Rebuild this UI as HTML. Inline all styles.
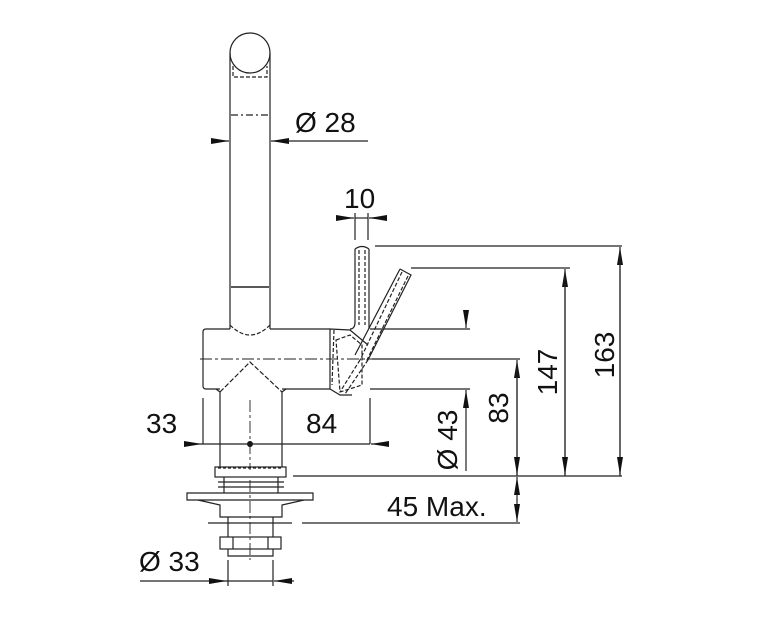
<!DOCTYPE html>
<html><head><style>body{margin:0;background:#fff}svg{display:block}</style></head><body>
<svg width="760" height="620" viewBox="0 0 760 620" xmlns="http://www.w3.org/2000/svg" font-family="Liberation Sans, Arial, sans-serif" fill="none" stroke="#222" stroke-width="1.2">
<defs><marker id="a" viewBox="0 0 18 6" refX="18" refY="3" markerWidth="18" markerHeight="6" markerUnits="userSpaceOnUse" orient="auto"><path d="M0,0L18,3L0,6z" fill="#111" stroke="none"/></marker></defs>
<!-- spout -->
<circle cx="250" cy="53" r="20"/>
<path d="M230,53V329M270,53V329"/>
<path d="M233,66V77H267V66" stroke-dasharray="4,2"/>
<path d="M231,115H269" stroke-dasharray="7,3,2,3"/>
<path d="M231,287H269" stroke-width="1.6"/>
<!-- body -->
<path d="M206,329H230M270,329H330M206,389H220M282,389H330M206,329Q203,329 203,332V386Q203,389 206,389"/>
<path d="M230,325Q250,345 270,325" stroke-dasharray="4,2"/>
<path d="M220,392L250,362L282,392" stroke-dasharray="5,2"/>
<path d="M220,392L216,389M282,392L286,389"/>
<path d="M330,329V389M330,329L350,330L368,345M330,389L340,395L352,395"/>
<path d="M336,340L350,335L362,345L362,385L340,392Z" stroke-dasharray="4,2"/>
<path d="M334,330L332,385" stroke-dasharray="4,2"/>
<!-- rod -->
<path d="M355,249V322Q355,329 350,329M369,249V329M355,249Q362,244 369,249"/>
<path d="M359,250V325M365,250V325" stroke-dasharray="4,2"/>
<!-- angled lever -->
<path d="M400,269L411,275L368,360M400,269L355,355" />
<path d="M402,272L360,360M408,276L366,362" stroke-dasharray="4,2"/>
<path d="M368,360L345,394M360,360L340,392" stroke-dasharray="4,2"/>
<!-- centerline -->
<path d="M200,359H520" stroke-dasharray="12,3,3,3" stroke-width="0.9"/>
<path d="M250,400V470M250,480V560" stroke-dasharray="12,3,3,3" stroke-width="0.9"/>
<!-- column -->
<path d="M220,392V467M282,392V467"/>
<rect x="215" y="467" width="71" height="10"/>
<path d="M218,468H283" stroke-dasharray="3,2"/>
<path d="M224,477V487M278,477V487M218,482H284M218,487H284M224,487V493M278,487V493"/>
<path d="M187,493H313V500H187Z"/>
<path d="M198,500L220,505V517H282V505L304,500"/>
<path d="M208,523H292M228,517V537M273,517V537"/>
<rect x="220" y="537" width="61" height="12"/>
<path d="M233,537V549M268,537V549M228,549V556H273V549"/>
<circle cx="250" cy="444" r="3" fill="#111" stroke="none"/>
<!-- dims -->
<path d="M212,141H229" marker-end="url(#a)"/><path d="M289,141H271" marker-end="url(#a)"/><path d="M288,141H368"/>
<text x="295" y="132" font-size="28" fill="#111" stroke="none">Ø 28</text>
<path d="M355,213V240M368,213V240"/>
<path d="M336,218H354" marker-end="url(#a)"/><path d="M387,218H369" marker-end="url(#a)"/><path d="M355,218H368"/>
<text x="344" y="208" font-size="28" fill="#111" stroke="none">10</text>
<path d="M203,398V444M370,398V444"/>
<path d="M184,444H202" marker-end="url(#a)"/><path d="M202,444H370"/><path d="M389,444H371" marker-end="url(#a)"/>
<text x="146" y="433" font-size="28" fill="#111" stroke="none">33</text>
<text x="306" y="433" font-size="28" fill="#111" stroke="none">84</text>
<path d="M228,560V586M273,560V586"/>
<path d="M140,581H227" marker-end="url(#a)"/><path d="M294,581H274" marker-end="url(#a)"/><path d="M227,581H273"/>
<text x="139" y="571" font-size="28" fill="#111" stroke="none">Ø 33</text>
<!-- right dims -->
<path d="M375,246H622M411,268H570M370,329H470M372,359H520M370,389H470M293,476H622M302,523H520"/>
<path d="M620,476V247" marker-end="url(#a)"/><path d="M620,250V475" marker-end="url(#a)"/>
<path d="M565,476V269" marker-end="url(#a)"/><path d="M565,272V475" marker-end="url(#a)"/>
<path d="M517,476V360" marker-end="url(#a)"/><path d="M517,363V475" marker-end="url(#a)"/>
<path d="M466,310V328" marker-end="url(#a)"/><path d="M466,471V390" marker-end="url(#a)"/>
<path d="M517,500V477" marker-end="url(#a)"/><path d="M517,499V522" marker-end="url(#a)"/>
<g font-size="28" fill="#111" stroke="none">
<text transform="translate(614,355) rotate(-90)" text-anchor="middle">163</text>
<text transform="translate(557,372) rotate(-90)" text-anchor="middle">147</text>
<text transform="translate(508,408) rotate(-90)" text-anchor="middle">83</text>
<text transform="translate(457,440) rotate(-90)" text-anchor="middle">Ø 43</text>
<text x="387" y="516">45 Max.</text>
</g>
</svg>
</body></html>
